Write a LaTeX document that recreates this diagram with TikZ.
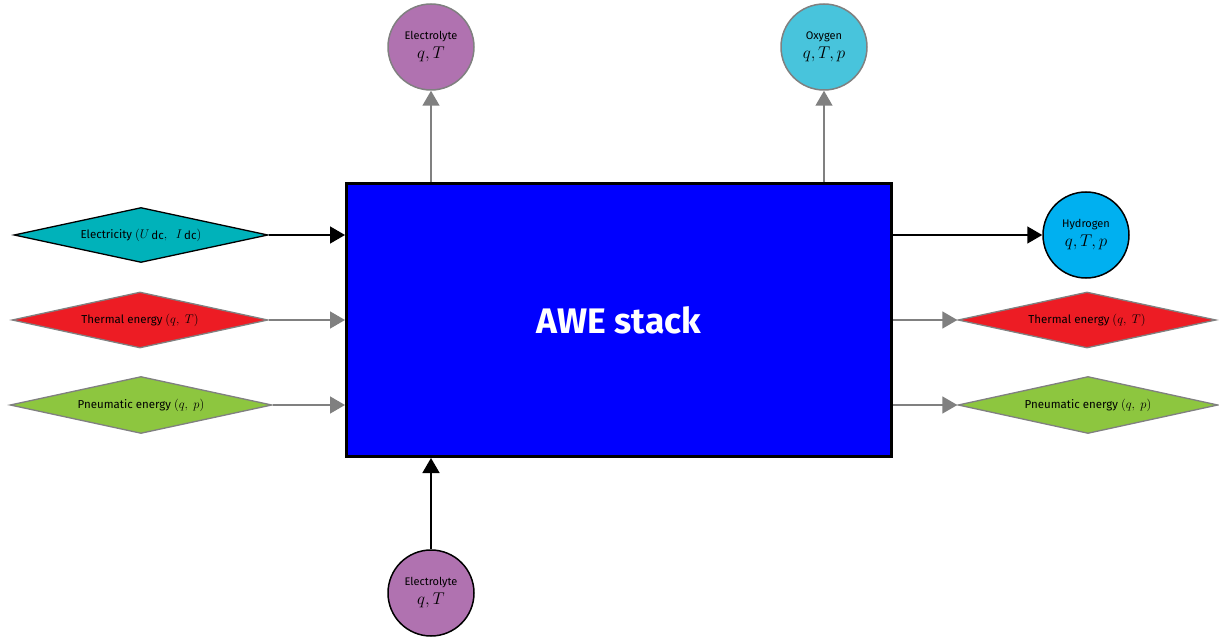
\RequirePackage{fix-cm}
\documentclass[tikz,border=0pt]{standalone}
\usepackage{fontspec}
\setmainfont{Fira Sans}
\usepackage{amsmath}
\usetikzlibrary{shapes.geometric,arrows.meta}
\definecolor{purp}{RGB}{176,114,176}
\definecolor{oxy}{RGB}{72,196,220}
\definecolor{hyd}{RGB}{0,176,240}
\definecolor{teal2}{RGB}{0,178,186}
\definecolor{red2}{RGB}{237,28,36}
\definecolor{green2}{RGB}{141,198,63}
\definecolor{gr}{RGB}{128,128,128}
\tikzset{
  circ/.style={circle,minimum size=86pt,inner sep=0pt,line width=1.5pt,align=center,font=\fontsize{11}{13}\selectfont},
  dia/.style={diamond,aspect=4.6,inner sep=0pt,line width=1.3pt,font=\fontsize{11.5}{13}\selectfont},
  conn/.style={line width=1.5pt,-{Triangle[length=15pt,width=17pt]}},
  gconn/.style={conn,draw=gr},
  bconn/.style={conn,draw=black}
}
\newcommand{\qvars}[1]{{\fontsize{17}{19}\selectfont$#1$}}
\newcommand{\dm}[1]{{\fontsize{12.5}{13}\selectfont$#1$}}
\newcommand{\dcsub}{\,\raisebox{-1.5pt}{dc}}
\begin{document}
\begin{tikzpicture}[x=1pt,y=-1pt]
\useasboundingbox (0,0) rectangle (1219,639);
\node[draw=black,fill=blue,line width=3pt,minimum width=545pt,minimum height=273pt,inner sep=0pt,font=\fontsize{35.5}{38}\selectfont\bfseries,text=white] (stack) at (619,320) {AWE stack};
\node[circ,draw=gr,fill=purp] (elout) at (431,47) {Electrolyte\\[4pt]\qvars{q,T}};
\node[circ,draw=gr,fill=oxy] (oxy) at (824,47) {Oxygen\\[4pt]\qvars{q,T,p}};
\node[circ,draw=black,fill=hyd] (hyd) at (1086,235) {Hydrogen\\[4pt]\qvars{q,T,p}};
\node[circ,draw=black,fill=purp] (elin) at (431,593) {Electrolyte\\[4pt]\qvars{q,T}};
\node[dia,draw=black,fill=teal2,minimum width=254pt,minimum height=55pt] (elec) at (141,235) {Electricity \dm{(U}\dcsub\dm{,\ \ I}\dcsub\dm{)}};
\node[dia,draw=gr,fill=red2,minimum width=256pt,minimum height=56pt] (thin) at (140,320) {Thermal energy \dm{(q,\ T)}};
\node[dia,draw=gr,fill=green2,minimum width=262pt,minimum height=57pt] (pnin) at (141,405) {Pneumatic energy \dm{(q,\ p)}};
\node[dia,draw=gr,fill=red2,minimum width=258pt,minimum height=56pt] (thout) at (1087,320) {Thermal energy \dm{(q,\ T)}};
\node[dia,draw=gr,fill=green2,minimum width=260pt,minimum height=57pt] (pnout) at (1088,405) {Pneumatic energy \dm{(q,\ p)}};
\draw[gconn] (stack.north -| elout) -- (elout);
\draw[gconn] (stack.north -| oxy) -- (oxy);
\draw[bconn] (elin) -- (elin |- stack.south);
\draw[bconn] (elec.east) -- (elec.east -| stack.west);
\draw[gconn] (thin.east) -- (thin.east -| stack.west);
\draw[gconn] (pnin.east) -- (pnin.east -| stack.west);
\draw[bconn] (hyd.west -| stack.east) -- (hyd.west);
\draw[gconn] (thout.west -| stack.east) -- (thout.west);
\draw[gconn] (pnout.west -| stack.east) -- (pnout.west);
\end{tikzpicture}
\end{document}
